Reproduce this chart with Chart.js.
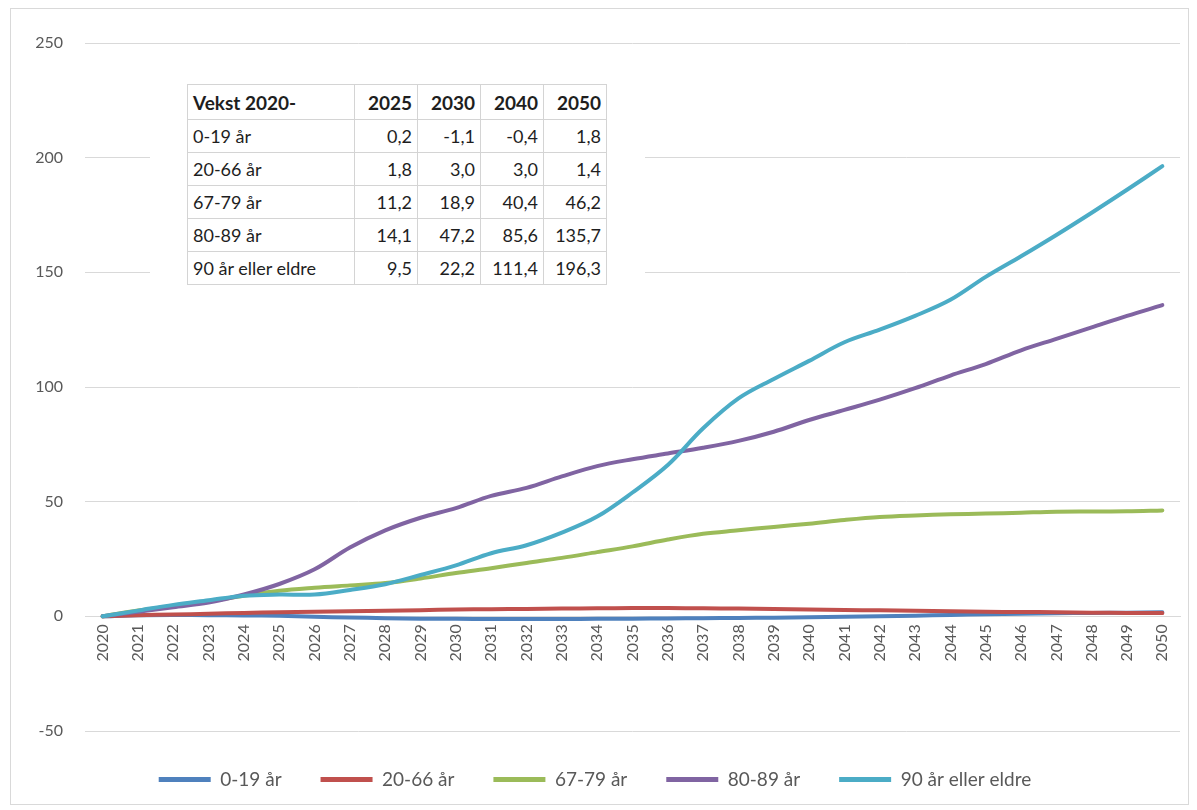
<!DOCTYPE html>
<html>
<head>
<meta charset="utf-8">
<script src="https://cdn.jsdelivr.net/npm/chart.js@4"></script>
<style>
  html, body { margin: 0; padding: 0; background: #fff; }
  #wrap { position: relative; width: 1197px; height: 810px; overflow: hidden; }
  #frame { position: absolute; left: 10px; top: 8px; width: 1177px; height: 795px; border: 1px solid #d9d9d9; pointer-events: none; }
  canvas { position: absolute; left: 0; top: 0; }
  #tblbox { position: absolute; left: 150px; top: 58px; width: 495px; height: 250px; background: #fff; }
  #tbl { position: absolute; left: 187px; top: 84px; border-collapse: collapse; font-family: Lato, "Liberation Sans", sans-serif; font-size: 18px; color: #1e1e1e; }
  #tbl td { border: 1px solid #d4d4d4; height: 33px; padding: 0 5px; text-align: right; box-sizing: border-box; }
  #tbl td.lbl { text-align: left; width: 167px; }
  #tbl td.num { width: 63px; }
  #tbl tr.hd td { font-weight: bold; font-size: 19px; height: 35px; }
</style>
</head>
<body>
<div id="wrap">
  <canvas id="c" width="1197" height="810"></canvas>
  <div id="tblbox"></div>
  <table id="tbl"></table>
  <div id="frame"></div>
</div>
<script>
// ---- data ----
const years = ["2020","2021","2022","2023","2024","2025","2026","2027","2028","2029","2030",
  "2031","2032","2033","2034","2035","2036","2037","2038","2039","2040",
  "2041","2042","2043","2044","2045","2046","2047","2048","2049","2050"];
const seriesNames = ["0-19 år", "20-66 år", "67-79 år", "80-89 år", "90 år eller eldre"];
const age0_19 = [0, 0.5, 0.6, 0.5, 0.4, 0.2, -0.2, -0.5, -0.8, -1.0, -1.1,
  -1.2, -1.2, -1.2, -1.1, -1.0, -0.9, -0.8, -0.7, -0.6, -0.4,
  -0.2, 0.0, 0.3, 0.6, 0.9, 1.1, 1.3, 1.5, 1.6, 1.8];
const age20_66 = [0, 0.5, 0.8, 1.1, 1.5, 1.8, 2.0, 2.2, 2.4, 2.7, 3.0,
  3.1, 3.2, 3.4, 3.5, 3.6, 3.6, 3.5, 3.4, 3.2, 3.0,
  2.8, 2.6, 2.4, 2.2, 2.0, 1.9, 1.8, 1.6, 1.5, 1.4];
const age67_79 = [0, 2.5, 4.5, 6.5, 9.0, 11.2, 12.5, 13.5, 14.5, 16.5, 18.9,
  21.0, 23.3, 25.5, 28.0, 30.5, 33.5, 36.0, 37.5, 39.0, 40.4,
  42.0, 43.3, 44.0, 44.5, 44.8, 45.2, 45.6, 45.7, 45.8, 46.2];
const age80_89 = [0, 2.0, 4.0, 6.0, 9.5, 14.1, 20.5, 30.0, 37.5, 43.0, 47.2,
  52.5, 56.0, 61.0, 65.5, 68.5, 71.0, 73.5, 76.5, 80.5, 85.6,
  90.0, 94.5, 99.5, 105.0, 110.0, 116.0, 121.0, 126.0, 131.0, 135.7];
const age90plus = [0, 2.5, 5.0, 7.0, 9.0, 9.5, 9.5, 11.5, 14.0, 18.0, 22.2,
  27.5, 31.0, 36.5, 43.5, 54.0, 66.0, 82.0, 95.0, 103.5, 111.4,
  119.5, 125.0, 131.0, 138.0, 148.0, 157.0, 166.3, 176.0, 186.0, 196.3];
const seriesColors = ["#4F81BD", "#C0504D", "#9BBB59", "#8064A2", "#4BACC6"];
const yTicks = [-50, 0, 50, 100, 150, 200, 250];

// table data
const tableHeader = ["Vekst 2020-", "2025", "2030", "2040", "2050"];
const tableRows = [
  ["0-19 år", "0,2", "-1,1", "-0,4", "1,8"],
  ["20-66 år", "1,8", "3,0", "3,0", "1,4"],
  ["67-79 år", "11,2", "18,9", "40,4", "46,2"],
  ["80-89 år", "14,1", "47,2", "85,6", "135,7"],
  ["90 år eller eldre", "9,5", "22,2", "111,4", "196,3"]
];

// build table
const tbl = document.getElementById('tbl');
function addRow(cells, cls) {
  const tr = document.createElement('tr');
  if (cls) tr.className = cls;
  cells.forEach((t, i) => {
    const td = document.createElement('td');
    td.textContent = t;
    td.className = i === 0 ? 'lbl' : 'num';
    tr.appendChild(td);
  });
  tbl.appendChild(tr);
}
addRow(tableHeader, 'hd');
tableRows.forEach(r => addRow(r));

const allSeries = [age0_19, age20_66, age67_79, age80_89, age90plus];
const datasets = allSeries.map((d, i) => ({
  label: seriesNames[i],
  data: d,
  borderColor: seriesColors[i],
  backgroundColor: seriesColors[i],
  borderWidth: 4,
  pointRadius: 0,
  tension: 0.35,
  borderCapStyle: 'round',
  order: 5 - i
}));

const font = { family: 'Lato, "Liberation Sans", sans-serif', size: 16 };

new Chart(document.getElementById('c'), {
  type: 'line',
  data: { labels: years, datasets },
  options: {
    responsive: false,
    devicePixelRatio: 1,
    animation: false,
    layout: { padding: { left: 10, right: 17, top: 43, bottom: 11 } },
    scales: {
      x: {
        type: 'category',
        position: { y: 0 },
        offset: true,
        grid: { display: false },
        border: { display: true, color: '#d9d9d9', width: 1 },
        ticks: { color: '#595959', font, minRotation: 90, maxRotation: 90, autoSkip: false, padding: 0 }
      },
      y: {
        min: -50, max: 250,
        afterFit: s => { s.width = 75; },
        afterBuildTicks: s => { s.ticks = yTicks.map(v => ({ value: v })); },
        grid: { color: '#d9d9d9', lineWidth: 1, drawTicks: false },
        border: { display: false },
        ticks: { color: '#595959', font, padding: 22 }
      }
    },
    plugins: {
      tooltip: { enabled: false },
      legend: {
        position: 'bottom',
        labels: {
          color: '#595959',
          font: { family: 'Lato, "Liberation Sans", sans-serif', size: 19 },
          boxWidth: 52,
          boxHeight: 5,
          padding: 39,
          sort: (a, b) => a.datasetIndex - b.datasetIndex,
          generateLabels: chart => Chart.defaults.plugins.legend.labels.generateLabels(chart).map(l => {
            l.lineWidth = 0;
            l.fillStyle = seriesColors[l.datasetIndex];
            l.strokeStyle = seriesColors[l.datasetIndex];
            return l;
          })
        }
      }
    }
  }
});
</script>
</body>
</html>
